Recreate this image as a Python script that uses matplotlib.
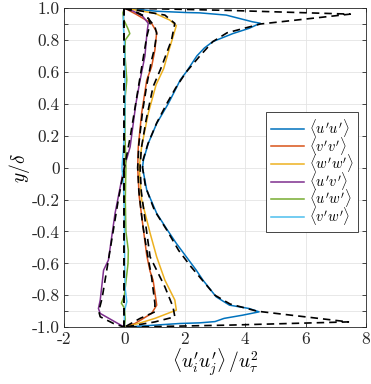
import numpy as np
import matplotlib
matplotlib.use("Agg")
import matplotlib.pyplot as plt

plt.rcParams["mathtext.fontset"] = "cm"
plt.rcParams["font.family"] = "serif"
plt.rcParams["font.serif"] = ["cmr10", "DejaVu Serif"]
plt.rcParams["axes.unicode_minus"] = False

# ---- colored (measured) profiles: (value, y/delta) ----
uu_x = [0, 1.07, 2.05, 2.49, 3.37, 4.24, 4.5, 4.13, 3.59, 2.93, 2.65, 2.4, 2.05, 1.85, 1.72, 1.45,
        1.07, 0.79, 0.63, 0.6, 0.74, 1.07, 1.42, 1.72, 2.05, 2.38, 2.6, 3.04, 3.48, 4.13, 4.46,
        3.91, 3.3, 3.0, 2.49, 1.83, 0]
uu_y = [1.0, 0.98, 0.972, 0.97, 0.956, 0.914, 0.905, 0.873, 0.84, 0.79, 0.75, 0.7, 0.6, 0.55, 0.5, 0.4,
        0.277, 0.152, 0.047, 0.0, -0.141, -0.287, -0.39, -0.475, -0.559, -0.643, -0.705, -0.81, -0.862, -0.883, -0.904,
        -0.925, -0.945, -0.965, -0.973, -0.977, -1.0]

vv_x = [0, 0.4, 0.9, 1.07, 1.01, 0.9, 0.74, 0.57, 0.46, 0.44, 0.49, 0.63, 0.74, 0.85, 0.95, 1.07, 0.9, 0.35, 0]
vv_y = [1.0, 0.96, 0.904, 0.85, 0.737, 0.632, 0.549, 0.34, 0.13, 0.0, -0.18, -0.39, -0.55, -0.65, -0.705, -0.862, -0.914, -0.977, -1.0]

ww_x = [0, 1.01, 1.5, 1.72, 1.61, 1.45, 1.3, 1.05, 0.79, 0.57, 0.49, 0.57, 0.85, 1.07, 1.34, 1.67, 1.72, 1.01, 0.46, 0]
ww_y = [1.0, 0.967, 0.925, 0.89, 0.82, 0.72, 0.62, 0.52, 0.34, 0.13, 0.0, -0.2, -0.41, -0.56, -0.705, -0.83, -0.893, -0.945, -0.977, -1.0]

uv_x = [0, 0.3, 0.6, 0.79, 0.75, 0.68, 0.52, 0.38, 0.19, -0.03, -0.31, -0.53, -0.69, -0.8, -0.86, -0.8, 0]
uv_y = [1.0, 0.98, 0.95, 0.904, 0.85, 0.7, 0.549, 0.4, 0.13, -0.016, -0.287, -0.58, -0.643, -0.83, -0.883, -0.914, -1.0]

uw_x = [0, -0.05, -0.03, 0.12, 0.18, 0.03, 0.02, 0.08, 0.03, 0.02, 0.05, 0.03, 0.05, 0.13, 0.12, 0.06, 0.0, -0.1, 0.0, 0.03, 0]
uw_y = [1.0, 0.97, 0.93, 0.87, 0.84, 0.8, 0.7, 0.55, 0.45, 0.2, 0.0, -0.2, -0.4, -0.52, -0.6, -0.7, -0.8, -0.85, -0.88, -0.95, -1.0]

vw_x = [0, -0.03, -0.04, 0.0, 0.02, 0.02, 0.0, -0.06, -0.08, -0.03, 0.0, 0.01, 0.02, 0.08, 0.0, 0]
vw_y = [1.0, 0.95, 0.9, 0.8, 0.6, 0.4, 0.2, 0.05, 0.0, -0.1, -0.3, -0.6, -0.75, -0.84, -0.9, -1.0]

# ---- reference (dashed) profiles ----
uu_ref_x = [0, 3.5, 7.48, 4.5, 3.4, 2.93, 2.5, 2.05, 1.7, 1.4, 1.07, 0.78, 0.62, 0.6, 0.7, 1.0, 1.4, 1.8,
            2.2, 2.6, 3.0, 3.5, 4.4, 7.42, 3.5, 0]
uu_ref_y = [1.0, 0.985, 0.962, 0.9, 0.845, 0.79, 0.7, 0.6, 0.5, 0.4, 0.28, 0.15, 0.05, 0.0, -0.12, -0.27, -0.39, -0.52,
            -0.62, -0.71, -0.8, -0.855, -0.9, -0.967, -0.987, -1.0]

vv_ref_x = [0, 0.45, 0.79, 1.01, 1.07, 1.0, 0.9, 0.74, 0.6, 0.48, 0.44, 0.48, 0.6, 0.74, 0.9, 1.01, 1.01, 0.52, 0]
vv_ref_y = [1.0, 0.97, 0.935, 0.883, 0.84, 0.75, 0.674, 0.517, 0.35, 0.15, 0.0, -0.15, -0.35, -0.517, -0.685, -0.851, -0.904, -0.945, -1.0]

ww_ref_x = [0, 1.34, 1.67, 1.56, 1.23, 0.95, 0.72, 0.56, 0.52, 0.56, 0.7, 0.85, 1.34, 1.61, 1.67, 1.01, 0]
ww_ref_y = [1.0, 0.956, 0.904, 0.8, 0.632, 0.507, 0.3, 0.12, 0.0, -0.15, -0.35, -0.559, -0.747, -0.873, -0.935, -0.967, -1.0]

uv_ref_x = [0, 0.36, 0.8, 0.85, 0.74, 0.46, 0.2, 0.0, -0.2, -0.46, -0.74, -0.85, -0.8, -0.36, 0]
uv_ref_y = [1.0, 0.977, 0.935, 0.9, 0.82, 0.5, 0.2, 0.0, -0.2, -0.5, -0.82, -0.9, -0.935, -0.977, -1.0]

zero_ref_x = [0, 0]
zero_ref_y = [1.0, -1.0]

labels = [r"$\langle u'u' \rangle$", r"$\langle v'v' \rangle$", r"$\langle w'w' \rangle$",
          r"$\langle u'v' \rangle$", r"$\langle u'w' \rangle$", r"$\langle v'w' \rangle$"]
colors = ["#0072BD", "#D95319", "#EDB120", "#7E2F8E", "#77AC30", "#4DBEEE"]

fig = plt.figure(figsize=(3.71, 3.84), dpi=100)
ax = fig.add_axes([0.1725, 0.148, 0.814, 0.831])

series = [(uu_x, uu_y), (vv_x, vv_y), (ww_x, ww_y), (uv_x, uv_y), (uw_x, uw_y), (vw_x, vw_y)]
for (sx, sy), c, lab in zip(series, colors, labels):
    ax.plot(sx, sy, color=c, lw=1.1, label=lab)

refs = [(uu_ref_x, uu_ref_y), (vv_ref_x, vv_ref_y), (ww_ref_x, ww_ref_y),
        (uv_ref_x, uv_ref_y), (zero_ref_x, zero_ref_y), (zero_ref_x, zero_ref_y)]
for rx, ry in refs:
    ax.plot(rx, ry, color="k", lw=1.2, ls=(0, (4.5, 3)))

ax.set_xlim(-2, 8)
ax.set_ylim(-1, 1)
ax.set_xticks([-2, 0, 2, 4, 6, 8])
ax.set_xticklabels(["-2", "0", "2", "4", "6", "8"])
yt = [-1.0, -0.9, -0.8, -0.6, -0.4, -0.2, 0, 0.2, 0.4, 0.6, 0.8, 0.9, 1.0]
ytl = ["-1.0", "", "-0.8", "-0.6", "-0.4", "-0.2", "0", "0.2", "0.4", "0.6", "0.8", "", "1.0"]
ax.set_yticks(yt)
ax.set_yticklabels(ytl)
ax.tick_params(direction="in", top=True, right=True, labelsize=12.5, length=3, width=0.6,
               colors="#262626", pad=3)
ax.grid(True, color="#e4e4e4", lw=0.6)
ax.set_axisbelow(True)
for sp in ax.spines.values():
    sp.set_color("#262626")
    sp.set_linewidth(0.6)

ax.set_xlabel(r"$\langle u_i' u_j' \rangle \, / u_\tau^2$", fontsize=14, labelpad=0)
ax.set_ylabel(r"$y/\delta$", fontsize=14, labelpad=0)

leg = ax.legend(loc="upper right", bbox_to_anchor=(0.975, 0.675), fontsize=10.5, frameon=True,
                fancybox=False, framealpha=1, edgecolor="#262626", handlelength=2.2,
                handletextpad=0.35, labelspacing=-0.3, borderpad=0.35, borderaxespad=0)
leg.get_frame().set_linewidth(0.6)

fig.savefig("out.png", dpi=100)
